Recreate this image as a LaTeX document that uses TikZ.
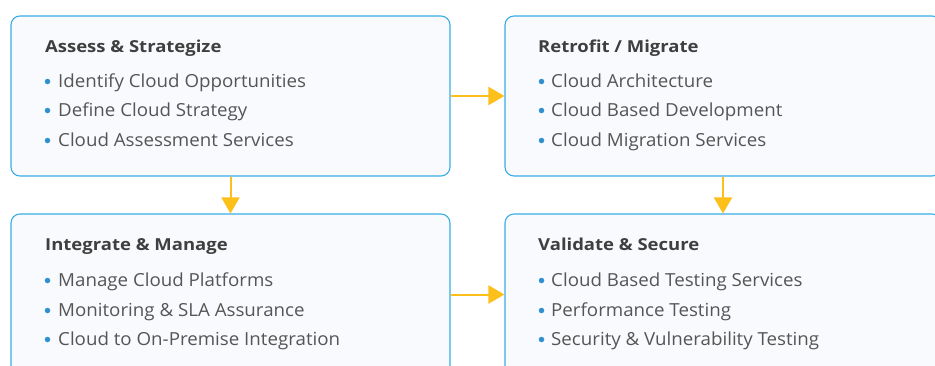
\documentclass[tikz,border=0pt]{standalone}
\usepackage{fontspec}
\setmainfont{Open Sans}
\newfontfamily\titlefont{Open Sans}[FakeStretch=1.12]
\newfontfamily\itemfont{Open Sans}[FakeStretch=1.04]
\usetikzlibrary{arrows.meta}
\definecolor{boxline}{HTML}{3AAEE5}
\definecolor{boxfill}{HTML}{F8FAFD}
\definecolor{arrowc}{HTML}{FDBF1A}
\definecolor{titlec}{HTML}{3F3F3F}
\definecolor{itemc}{HTML}{555555}
\definecolor{bulletc}{HTML}{2F8FD0}
\tikzset{
  panel/.style={draw=boxline, fill=boxfill, line width=1.1pt, rounded corners=9pt, inner sep=0pt},
  ptitle/.style={anchor=base west, inner sep=0pt, text=titlec, font=\titlefont\fontsize{16.5}{18}\selectfont\bfseries},
  pitem/.style={anchor=base west, inner sep=0pt, text=itemc, font=\itemfont\fontsize{18}{20}\selectfont},
  pbullet/.style={circle, fill=bulletc, inner sep=0pt, minimum size=5.5pt},
  flow/.style={draw=arrowc, line width=2pt, -{Triangle[length=16pt,width=18pt]}}
}
\begin{document}
\begin{tikzpicture}[x=1pt,y=-1pt]
\useasboundingbox (0,0) rectangle (935,365);
\clip (0,0) rectangle (935,365);
\fill[white] (0,0) rectangle (935,365);
\node[panel, minimum width=439pt, minimum height=160pt] (tl) at (230.5,96) {};
\node[panel, minimum width=436pt, minimum height=160pt] (tr) at (723,96) {};
\node[panel, minimum width=439pt, minimum height=161pt] (bl) at (230.5,294.5) {};
\node[panel, minimum width=436pt, minimum height=161pt] (br) at (723,294.5) {};
\draw[flow] (tl) -- (tr);
\draw[flow] (bl) -- (br);
\draw[flow] (tl) -- (bl);
\draw[flow] (tr) -- (br);
% top-left
\node[ptitle] (t1) at (45,52.5) {Assess \& Strategize};
\node[pbullet] (b11) at (47.5,81.5) {}; \node[pitem] (i11) at (58,87.7) {Identify Cloud Opportunities};
\node[pbullet] (b12) at (47.5,110.5) {}; \node[pitem] (i12) at (58,116.7) {Define Cloud Strategy};
\node[pbullet] (b13) at (47.5,140.5) {}; \node[pitem] (i13) at (58,146.7) {Cloud Assessment Services};
% top-right
\node[ptitle] (t2) at (538,52.5) {Retrofit / Migrate};
\node[pbullet] (b21) at (541.5,81.5) {}; \node[pitem] (i21) at (551,87.7) {Cloud Architecture};
\node[pbullet] (b22) at (541.5,110.5) {}; \node[pitem] (i22) at (551,116.7) {Cloud Based Development};
\node[pbullet] (b23) at (541.5,140.5) {}; \node[pitem] (i23) at (551,146.7) {Cloud Migration Services};
% bottom-left
\node[ptitle] (t3) at (45,250.6) {Integrate \& Manage};
\node[pbullet] (b31) at (47.5,280.5) {}; \node[pitem] (i31) at (58,286.7) {Manage Cloud Platforms};
\node[pbullet] (b32) at (47.5,310.5) {}; \node[pitem] (i32) at (58,316.7) {Monitoring \& SLA Assurance};
\node[pbullet] (b33) at (47.5,339.5) {}; \node[pitem] (i33) at (58,345.7) {Cloud to On-Premise Integration};
% bottom-right
\node[ptitle] (t4) at (538,250.6) {Validate \& Secure};
\node[pbullet] (b41) at (541.5,280.5) {}; \node[pitem] (i41) at (551,286.7) {Cloud Based Testing Services};
\node[pbullet] (b42) at (541.5,310.5) {}; \node[pitem] (i42) at (551,316.7) {Performance Testing};
\node[pbullet] (b43) at (541.5,339.5) {}; \node[pitem] (i43) at (551,345.7) {Security \& Vulnerability Testing};
\end{tikzpicture}
\end{document}
